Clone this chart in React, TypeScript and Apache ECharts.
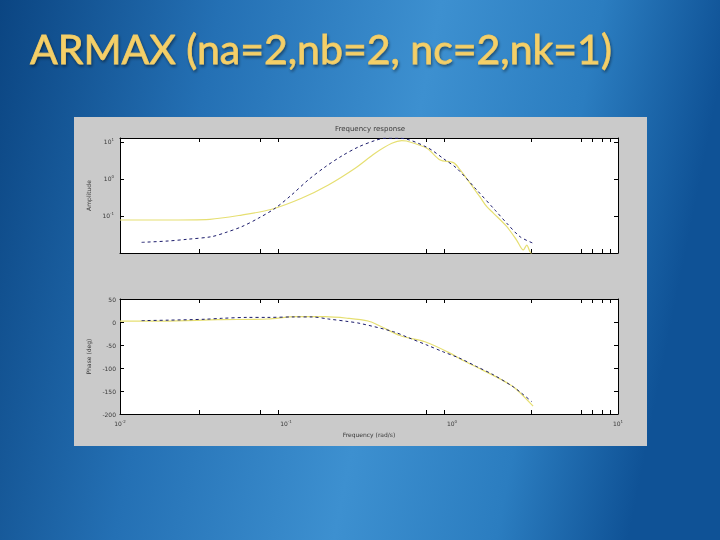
import React, { useEffect, useRef } from 'react';
import * as echarts from 'echarts';

const slideTitle = 'ARMAX (na=2,nb=2, nc=2,nk=1)';
const plotTitle = 'Frequency response';
const xAxisName = 'Frequency (rad/s)';
const ampAxisName = 'Amplitude';
const phaseAxisName = 'Phase (deg)';

// x tick marks (visible minor ticks) and label values
const xTickValues = [0.03, 0.07, 0.09, 0.7, 0.9, 3, 6, 7, 8, 9];
const xLabelValues = [0.01, 0.1, 1, 10];
const ampLabelValues = [0.1, 1, 10];

// Amplitude (yellow = measured, blue = ARMAX model)
const yellowAmpFreq = [0.01, 0.0182, 0.0348, 0.0541, 0.082, 0.124, 0.18, 0.261, 0.344, 0.434, 0.498, 0.533, 0.705, 0.848, 1.02, 1.12, 1.47, 1.62, 1.78, 2.14, 2.45, 2.69, 2.82, 2.95, 3.08];
const yellowAmp = [0.078, 0.078, 0.0815, 0.106, 0.152, 0.301, 0.689, 1.95, 4.95, 9.2, 10.9, 10.6, 6.76, 3.26, 2.76, 1.75, 0.333, 0.178, 0.118, 0.0514, 0.0224, 0.0121, 0.0164, 0.0108, 0.0083];

const blueAmpFreq = [0.0135, 0.0195, 0.0252, 0.0356, 0.043, 0.0541, 0.0681, 0.0859, 0.108, 0.136, 0.172, 0.217, 0.273, 0.344, 0.394, 0.486, 0.705, 0.908, 1.067, 1.41, 1.82, 2.14, 2.57, 3.09];
const blueAmp = [0.0194, 0.0211, 0.0234, 0.0276, 0.0354, 0.0514, 0.0867, 0.161, 0.37, 0.94, 2.11, 4.19, 7.33, 10.97, 12.6, 12.6, 7.2, 3.3, 1.95, 0.505, 0.143, 0.0635, 0.0275, 0.0183];

// Phase (deg)
const yellowPhaseFreq = [0.01, 0.0182, 0.0389, 0.0781, 0.113, 0.172, 0.236, 0.312, 0.358, 0.49, 0.687, 0.94, 1.2, 1.52, 2.0, 2.4, 3.08];
const yellowPhase = [2, 2, 5, 6.5, 11.5, 11.5, 8, 2.2, -6.5, -30, -43, -65, -86, -104, -126, -144, -183];

const bluePhaseFreq = [0.0135, 0.0195, 0.0325, 0.041, 0.059, 0.0769, 0.113, 0.1436, 0.18, 0.237, 0.279, 0.443, 0.546, 0.705, 0.887, 1.117, 1.41, 1.78, 2.34, 2.63, 3.02];
const bluePhase = [3, 4, 6, 8, 10, 10, 11, 11, 6.5, 1, -3, -21, -34, -50, -65, -79, -97, -115, -141, -155, -173];

const BLUE = '#1b1b6b';
const YELLOW = '#e6df72';
const LABEL = '#3a3a3a';
const TITLE_GOLD = '#f4cf68';

export default function App() {
  const ref = useRef<HTMLDivElement>(null);

  useEffect(() => {
    if (!ref.current) return;
    const chart = echarts.init(ref.current, null, { renderer: 'svg' });
    const pair = (xs: number[], ys: number[]) => xs.map((x, i) => [x, ys[i]]);

    const axisLine = { show: true, onZero: false, lineStyle: { color: '#000', width: 1 } };
    const supRich = {
      b: { fontSize: 6, color: LABEL, fontFamily: 'DejaVu Sans' },
      s: { fontSize: 4, color: LABEL, fontFamily: 'DejaVu Sans', padding: [0, 0, 5, 0] },
    };
    const supFmt = (v: number) => `{b|10}{s|${Math.round(Math.log10(v))}}`;

    const xAxis = (gridIndex: number, position: string, withLabel: boolean) => ({
      type: 'log',
      logBase: 10,
      gridIndex,
      position,
      min: 0.01,
      max: 10,
      axisLine,
      axisTick: { show: true, inside: true, length: 4, lineStyle: { color: '#000' }, customValues: xTickValues },
      minorTick: { show: false },
      splitLine: { show: false },
      axisLabel: withLabel
        ? { show: true, customValues: xLabelValues, formatter: supFmt, rich: supRich, margin: 5 }
        : { show: false },
      name: withLabel ? xAxisName : '',
      nameLocation: 'middle',
      nameGap: 17,
      nameTextStyle: { fontSize: 6, color: LABEL, fontFamily: 'DejaVu Sans' },
    });

    const option: any = {
      animation: false,
      graphic: [
        {
          type: 'rect',
          z: -20,
          shape: { x: 0, y: 0, width: 720, height: 540 },
          style: {
            fill: new echarts.graphic.LinearGradient(0, 0, 1, 0.15, [
              { offset: 0, color: '#0b4582' },
              { offset: 0.3, color: '#2470b4' },
              { offset: 0.6, color: '#3d90d0' },
              { offset: 0.82, color: '#2b7dc0' },
              { offset: 1, color: '#0f5296' },
            ]),
          },
        },
        {
          type: 'rect',
          z: -10,
          shape: { x: 74, y: 117, width: 573, height: 329 },
          style: { fill: '#cacaca' },
        },
        {
          type: 'text',
          z: 10,
          x: 30,
          y: 48,
          style: {
            text: slideTitle,
            font: '41px Lato, "Open Sans", sans-serif',
            fill: TITLE_GOLD,
            stroke: '#ecc45e',
            lineWidth: 0.8,
            verticalAlign: 'middle',
            textShadowColor: 'rgba(0,0,0,0.45)',
            textShadowBlur: 3,
            textShadowOffsetX: 1,
            textShadowOffsetY: 2,
          },
        },
        {
          type: 'text',
          z: 10,
          x: 370,
          y: 129,
          style: {
            text: plotTitle,
            font: '7px "DejaVu Sans"',
            fill: LABEL,
            align: 'center',
            verticalAlign: 'middle',
          },
        },
      ],
      grid: [
        { left: 120, top: 138, width: 498, height: 115, show: true, backgroundColor: '#ffffff', borderWidth: 0 },
        { left: 120, top: 299, width: 498, height: 115, show: true, backgroundColor: '#ffffff', borderWidth: 0 },
      ],
      xAxis: [xAxis(0, 'bottom', false), xAxis(0, 'top', false), xAxis(1, 'bottom', true), xAxis(1, 'top', false)],
      yAxis: [
        {
          type: 'log',
          logBase: 10,
          gridIndex: 0,
          position: 'left',
          min: 0.01,
          max: 12.8,
          axisLine,
          axisTick: { show: true, inside: true, length: 4, lineStyle: { color: '#000' }, customValues: ampLabelValues },
          minorTick: { show: false },
          splitLine: { show: false },
          axisLabel: { show: true, customValues: ampLabelValues, formatter: supFmt, rich: supRich, margin: 6 },
          name: ampAxisName,
          nameLocation: 'middle',
          nameGap: 21,
          nameRotate: 90,
          nameTextStyle: { fontSize: 6, color: LABEL, fontFamily: 'DejaVu Sans' },
        },
        {
          type: 'log',
          logBase: 10,
          gridIndex: 0,
          position: 'right',
          min: 0.01,
          max: 12.8,
          axisLine,
          axisTick: { show: true, inside: true, length: 4, lineStyle: { color: '#000' }, customValues: ampLabelValues },
          minorTick: { show: false },
          splitLine: { show: false },
          axisLabel: { show: false },
        },
        {
          type: 'value',
          gridIndex: 1,
          position: 'left',
          min: -200,
          max: 50,
          interval: 50,
          axisLine,
          axisTick: { show: true, inside: true, length: 4, lineStyle: { color: '#000' } },
          splitLine: { show: false },
          axisLabel: { show: true, fontSize: 6, color: LABEL, fontFamily: 'DejaVu Sans', margin: 4 },
          name: phaseAxisName,
          nameLocation: 'middle',
          nameGap: 19,
          nameRotate: 90,
          nameTextStyle: { fontSize: 6, color: LABEL, fontFamily: 'DejaVu Sans' },
        },
        {
          type: 'value',
          gridIndex: 1,
          position: 'right',
          min: -200,
          max: 50,
          interval: 50,
          axisLine,
          axisTick: { show: true, inside: true, length: 4, lineStyle: { color: '#000' } },
          splitLine: { show: false },
          axisLabel: { show: false },
        },
      ],
      series: [
        {
          type: 'line', xAxisIndex: 0, yAxisIndex: 0, data: pair(yellowAmpFreq, yellowAmp),
          showSymbol: false, smooth: 0.3, clip: true, lineStyle: { color: YELLOW, width: 1.2 },
        },
        {
          type: 'line', xAxisIndex: 0, yAxisIndex: 0, data: pair(blueAmpFreq, blueAmp),
          showSymbol: false, smooth: 0.3, clip: true, lineStyle: { color: BLUE, width: 1, type: [3, 3] },
        },
        {
          type: 'line', xAxisIndex: 2, yAxisIndex: 2, data: pair(yellowPhaseFreq, yellowPhase),
          showSymbol: false, smooth: 0.3, clip: true, lineStyle: { color: YELLOW, width: 1.2 },
        },
        {
          type: 'line', xAxisIndex: 2, yAxisIndex: 2, data: pair(bluePhaseFreq, bluePhase),
          showSymbol: false, smooth: 0.3, clip: true, lineStyle: { color: BLUE, width: 1, type: [3, 3] },
        },
      ],
    };

    chart.setOption(option);
    return () => chart.dispose();
  }, []);

  return <div ref={ref} style={{ position: 'fixed', left: 0, top: 0, width: 720, height: 540 }} />;
}
